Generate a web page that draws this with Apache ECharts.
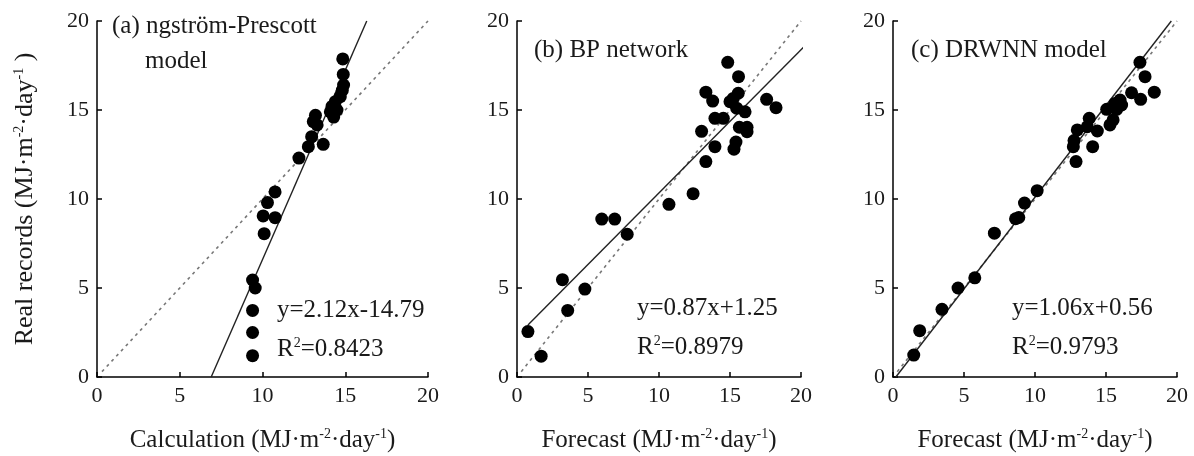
<!DOCTYPE html>
<html>
<head>
<meta charset="utf-8">
<script src="https://cdn.jsdelivr.net/npm/echarts@6/dist/echarts.min.js"></script>
<style>
  html, body { margin: 0; padding: 0; background: #fff; }
  #chart { width: 1194px; height: 456px; }
</style>
</head>
<body>
<div id="chart"></div>
<script>
// (a) Angström-Prescott model: calculation vs real records
var aCalc = [14.85, 14.88, 14.9, 14.82, 14.7, 14.4, 14.2, 14.5, 14.1, 14.3, 13.2, 13.07, 13.3, 12.97, 12.77, 13.67, 12.2,
  10.76, 10.3, 10.04, 10.76, 10.1, 9.4, 9.56, 9.4, 9.4, 9.4];
var aReal = [17.87, 17.0, 16.4, 16.1, 15.75, 15.47, 15.2, 15.0, 14.9, 14.6, 14.7, 14.35, 14.16, 13.5, 12.94, 13.07, 12.3,
  10.4, 9.8, 9.05, 8.95, 8.05, 5.45, 5.0, 3.74, 2.5, 1.2];
var aFitX = [6.9, 16.3];
var aFitY = [0, 20];

// (b) BP network: forecast vs real records
var bForecast = [0.77, 1.7, 3.2, 3.57, 4.78, 5.97, 6.88, 7.76, 10.7, 12.4,
  14.84, 15.6, 13.3, 13.78, 15.0, 15.58, 15.23, 16.06, 15.47, 17.58, 18.24, 13.94, 14.53, 15.66, 16.2, 16.2, 13.0, 15.42, 15.28, 13.94, 13.3];
var bReal = [2.55, 1.17, 5.47, 3.74, 4.94, 8.87, 8.87, 8.02, 9.7, 10.3,
  17.68, 16.87, 16.0, 15.5, 15.47, 15.94, 15.65, 14.9, 15.1, 15.6, 15.13, 14.53, 14.53, 14.03, 14.03, 13.78, 13.8, 13.2, 12.8, 12.94, 12.1];
var bFitX = [0.77, 21.2];
var bFitY = [2.92, 19.35];

// (c) DRWNN model: forecast vs real records
var cForecast = [1.46, 1.88, 3.45, 4.58, 5.76, 7.14, 8.63, 8.86, 9.26, 10.15,
  17.39, 17.75, 18.4, 17.44, 16.8, 15.99, 15.63, 16.1, 15.75, 15.05, 15.5, 15.28, 13.82, 13.68, 14.39, 12.98, 12.75, 12.7, 14.06, 12.89];
var cReal = [1.23, 2.6, 3.8, 5.0, 5.57, 8.08, 8.89, 8.96, 9.77, 10.47,
  17.68, 16.87, 16.0, 15.6, 15.97, 15.56, 15.37, 15.28, 15.04, 15.04, 14.44, 14.16, 14.53, 14.06, 13.82, 13.88, 13.28, 12.94, 12.94, 12.1];
var cFitX = [0.2, 19.6];
var cFitY = [0, 20];

// 1:1 reference line
var diagX = [0.3, 20];
var diagY = [0.3, 20];

var axisTicks = [0, 5, 10, 15, 20];

var FONT = '"Liberation Serif", "DejaVu Serif", serif';
var INK = '#1a1a1a';

function pairs(xs, ys) {
  return xs.map(function (x, i) { return [x, ys[i]]; });
}

// superscript: small token pinned to the top of the line
var supRich = {
  sup: { fontSize: 14, fontFamily: FONT, color: INK, verticalAlign: 'top', lineHeight: 13 }
};

function xAxisCfg(idx, name) {
  return {
    gridIndex: idx, type: 'value', min: axisTicks[0], max: axisTicks[axisTicks.length - 1], interval: 5,
    name: name, nameLocation: 'middle', nameGap: 50,
    nameTextStyle: { fontFamily: FONT, fontSize: 25, lineHeight: 27, color: INK, rich: supRich },
    axisLine: { onZero: false, lineStyle: { color: '#000', width: 1.5 } },
    axisTick: { inside: true, length: 5, lineStyle: { color: '#000', width: 1.5 } },
    axisLabel: { fontFamily: FONT, fontSize: 22, color: INK, margin: 8 },
    splitLine: { show: false }
  };
}

function yAxisCfg(idx, name) {
  return {
    gridIndex: idx, type: 'value', min: axisTicks[0], max: axisTicks[axisTicks.length - 1], interval: 5,
    name: name || '', nameLocation: 'middle', nameGap: 58, nameRotate: 90,
    nameTextStyle: { fontFamily: FONT, fontSize: 26, lineHeight: 27, color: INK, rich: supRich },
    axisLine: { show: true, onZero: false, lineStyle: { color: '#000', width: 1.5 } },
    axisTick: { show: true, inside: true, length: 5, lineStyle: { color: '#000', width: 1.5 } },
    axisLabel: { fontFamily: FONT, fontSize: 22, color: INK, margin: 8 },
    splitLine: { show: false }
  };
}

function scatterSeries(idx, xs, ys) {
  return {
    type: 'scatter', xAxisIndex: idx, yAxisIndex: idx, data: pairs(xs, ys),
    symbolSize: 13, itemStyle: { color: '#000', opacity: 1 }, z: 5
  };
}

function lineSeries(idx, xs, ys, dashed) {
  return {
    type: 'line', xAxisIndex: idx, yAxisIndex: idx, data: pairs(xs, ys),
    symbol: 'none', clip: false, silent: true,
    lineStyle: dashed ? { color: '#777', width: 1.6, type: [3, 4] } : { color: '#222', width: 1.4 },
    z: 3
  };
}

function label(x, y, text) {
  return {
    type: 'text', left: x, top: y,
    style: { text: text, fontFamily: FONT, fontSize: 25, lineHeight: 27, fill: INK, rich: supRich }
  };
}

var xName = 'Calculation (MJ·m{sup|-2}·day{sup|-1})';
var fName = 'Forecast (MJ·m{sup|-2}·day{sup|-1})';
var yName = 'Real records (MJ·m{sup|-2}·day{sup|-1} )';

var chart = echarts.init(document.getElementById('chart'), null, { renderer: 'canvas' });

var option = {
  backgroundColor: '#fff',
  animation: false,
  grid: [
    { left: 97, top: 21, width: 331, height: 356, outerBoundsMode: 'none' },
    { left: 517, top: 21, width: 284, height: 356, outerBoundsMode: 'none' },
    { left: 893, top: 21, width: 284, height: 356, outerBoundsMode: 'none' }
  ],
  xAxis: [xAxisCfg(0, xName), xAxisCfg(1, fName), xAxisCfg(2, fName)],
  yAxis: [yAxisCfg(0, yName), yAxisCfg(1), yAxisCfg(2)],
  series: [
    lineSeries(0, diagX, diagY, true),
    lineSeries(0, aFitX, aFitY, false),
    scatterSeries(0, aCalc, aReal),
    lineSeries(1, diagX, diagY, true),
    lineSeries(1, bFitX, bFitY, false),
    scatterSeries(1, bForecast, bReal),
    lineSeries(2, diagX, diagY, true),
    lineSeries(2, cFitX, cFitY, false),
    scatterSeries(2, cForecast, cReal)
  ],
  graphic: [
    label(112, 13, '(a) ngström-Prescott'),
    label(145, 48, 'model'),
    label(277, 297, 'y=2.12x-14.79'),
    label(277, 336, 'R{sup|2}=0.8423'),
    label(534, 37, '(b) BP network'),
    label(637, 295, 'y=0.87x+1.25'),
    label(637, 334, 'R{sup|2}=0.8979'),
    label(911, 37, '(c) DRWNN model'),
    label(1012, 295, 'y=1.06x+0.56'),
    label(1012, 334, 'R{sup|2}=0.9793')
  ]
};

chart.setOption(option);
</script>
</body>
</html>
